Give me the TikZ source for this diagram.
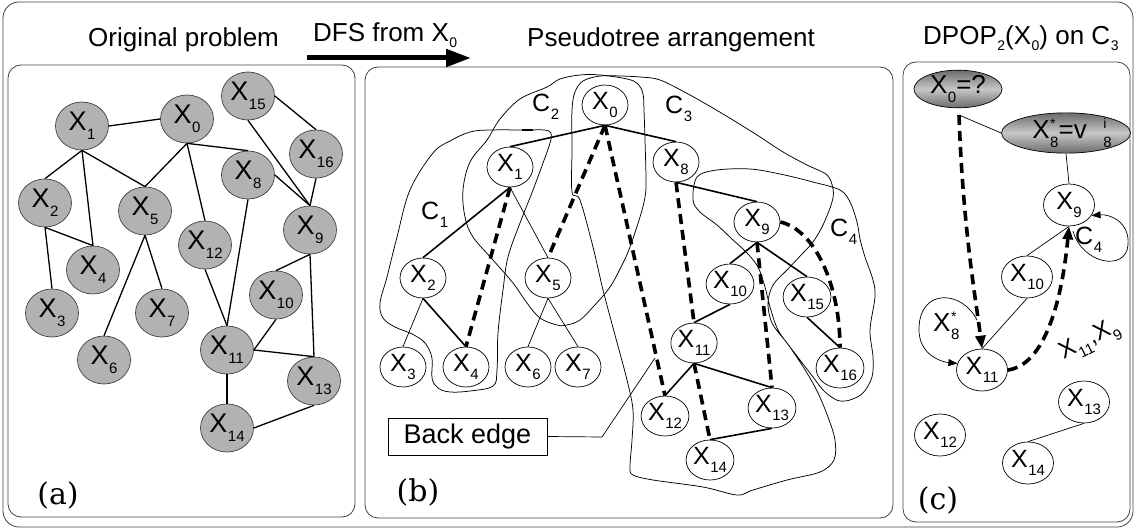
\documentclass[tikz,border=0pt]{standalone}
\usepackage{fontspec}
\setmainfont{Liberation Sans}
\newfontfamily\labfont{DejaVu Serif}
\usetikzlibrary{arrows.meta,shapes.geometric}

% font size helper, lowered subscripts, raised superscript (stacked over the subscript)
\newcommand\fs[1]{\fontsize{#1}{#1}\selectfont}
\newcommand\Sb[1]{\kern0.5pt\raisebox{-0.32em}{\fs{15}#1}}
\newcommand\Ts[1]{\kern0.5pt\raisebox{-0.22em}{\fs{14}#1}}
\newcommand\Sbb[1]{\kern0.5pt\raisebox{-0.3em}{\fs{15}#1}}
\newcommand\Sp[1]{\rlap{\kern0.5pt\raisebox{0.38em}{\fs{14}#1}}}

\tikzset{
  panel/.style={draw=black!75, line width=0.8pt, rounded corners=13pt},
  gnode/.style={ellipse, draw=black!75, line width=0.7pt, fill=black!30,
    minimum width=53pt, minimum height=48pt, inner sep=0pt, font=\fs{27}},
  wnode/.style={ellipse, draw=black, line width=0.7pt, fill=white,
    minimum width=46pt, minimum height=40pt, inner sep=0pt, font=\fs{25}},
  cnode/.style={wnode, minimum width=51pt, minimum height=42pt},
  snode/.style={ellipse, draw=black, line width=0.7pt, top color=black!58,
    bottom color=black!58, middle color=black!22, inner sep=0pt, font=\fs{26}},
  aedge/.style={line width=1.3pt},
  tedge/.style={line width=1.6pt},
  fedge/.style={line width=0.7pt},
  bedge/.style={line width=3.6pt, dash pattern=on 10pt off 6pt},
  ring/.style={line width=0.75pt},
  heading/.style={font=\fs{26}, anchor=base west, inner sep=0pt},
  clab/.style={font=\fs{25}, anchor=base west, inner sep=0pt},
  plab/.style={font=\labfont\fs{30}, inner sep=0pt},
  bigtip/.style={-{Triangle[length=13pt,width=10pt]}},
  smalltip/.style={-{Triangle[length=9pt,width=7pt]}},
}

\begin{document}
\begin{tikzpicture}[x=1pt,y=-1pt]
\useasboundingbox (0,0) rectangle (1135,529);

% frames
\draw[panel, rounded corners=16pt] (3,2) rectangle (1133,527);
\draw[panel] (8,65) rectangle (355,517);
\draw[panel] (365,67) rectangle (893,518);
\draw[panel] (903,62) rectangle (1130,522);

% headings
\node[heading] (t1) at (88,47) {Original problem};
\node[heading] (t2) at (313,42) {DFS from X\Ts{0}};
\node[heading] (t3) at (527,47) {Pseudotree arrangement};
\node[heading] (t4) at (923,45) {DPOP\Ts{2}(X\Ts{0}) on C\Ts{3}};
\coordinate (dfsA) at (307,58);
\coordinate (dfsB) at (471,58);
\draw[line width=5pt, -{Triangle[length=25pt,width=17pt]}] (dfsA) -- (dfsB);

% ---------------- (a) constraint graph ----------------
\node[gnode] (a0)  at (187,119) {X\Sb{0}};
\node[gnode] (a1)  at (82,126)  {X\Sb{1}};
\node[gnode] (a2)  at (45,203)  {X\Sb{2}};
\node[gnode] (a3)  at (52,313)  {X\Sb{3}};
\node[gnode] (a4)  at (93,270)  {X\Sb{4}};
\node[gnode] (a5)  at (145,211) {X\Sb{5}};
\node[gnode] (a6)  at (104,360) {X\Sb{6}};
\node[gnode] (a7)  at (162,313) {X\Sb{7}};
\node[gnode] (a8)  at (248,175) {X\Sb{8}};
\node[gnode] (a9)  at (310,230) {X\Sb{9}};
\node[gnode] (a10) at (276,295) {X\Sb{10}};
\node[gnode] (a11) at (227,350) {X\Sb{11}};
\node[gnode] (a12) at (205,245) {X\Sb{12}};
\node[gnode] (a13) at (314,381) {X\Sb{13}};
\node[gnode] (a14) at (227,428) {X\Sb{14}};
\node[gnode] (a15) at (248,96)  {X\Sb{15}};
\node[gnode] (a16) at (316,154) {X\Sb{16}};

\draw[aedge] (a1.east) -- (a0.west);
\draw[aedge] (a1.south) -- (a2.north);
\draw[aedge] (a1.south) -- (a4.north);
\draw[aedge] (a1.south) -- (a5.north);
\draw[aedge] (a0.south) -- (a5.north);
\draw[aedge] (a0.south) -- (a12.north);
\draw[aedge] (a0.south) -- (a8.north);
\draw[aedge] (a8.east) -- (a9.north);
\draw[aedge] (a15.south) -- (a9.north);
\draw[aedge] (a16.south) -- (a9.north);
\draw[aedge] (a15.east) -- (a16.north);
\draw[aedge] (a2.south) -- (a4.north);
\draw[aedge] (a2.south) -- (a3.north);
\draw[aedge] (a5.south) -- (a6.north);
\draw[aedge] (a5.south) -- (a7.north);
\draw[aedge] (a12.south) -- (a11.north);
\draw[aedge] (a8.south) -- (a11.north);
\draw[aedge] (a9.south) -- (a10.north);
\draw[aedge] (a9.south) -- (a13.north);
\draw[aedge] (a10.south) -- (a11.east);
\draw[aedge] (a11.east) -- (a13.north);
\draw[aedge] (a11.south) -- (a14.north);
\draw[aedge] (a14.east) -- (a13.south);

\node[plab] (pa) at (58,495) {(a)};

% ---------------- (b) pseudotree with clusters ----------------
% C1
\draw[ring] plot[smooth cycle, tension=0.6] coordinates {
  (527,130) (490,130) (470,132) (450,141) (433,153) (410,190) (397,237)
  (387,277) (380,303) (383,318) (395,327) (412,334) (425,343) (432,358)
  (432,378) (438,388) (450,392) (470,391) (493,386) (497,370) (498,333)
  (503,290) (508,257) (520,223) (533,190) (543,163) (550,143) (551,133)
  (544,130)};
\draw[line width=2pt] (522,129.6) -- (533,129.6);
% C2
\draw[ring] plot[smooth cycle, tension=0.6] coordinates {
  (600,75) (580,75) (560,79) (547,87) (520,99) (500,119) (487,140)
  (470,162) (463,190) (465,217) (473,237) (493,260) (513,283) (527,303)
  (540,318) (557,325) (567,325) (580,320) (593,307) (610,287) (623,263)
  (630,247) (640,217) (645,197) (646,180) (645,140) (644,110) (643,94)
  (638,84) (627,79)};
% C3 and C4 (one stroke crossing itself)
\draw[ring] plot[smooth cycle, tension=0.55] coordinates {
  (572,192) (572,150) (572,110) (575,92) (583,81) (600,76) (620,76)
  (640,77) (660,80) (690,95) (723,114) (757,135) (783,152) (807,165)
  (827,175) (833,189) (832,202) (823,225) (813,242) (803,253) (787,270)
  (773,285) (768,303) (772,323) (787,343) (800,360) (813,377) (823,390)
  (833,398) (840,401) (850,400) (863,393) (872,377) (873,357) (870,330)
  (875,297) (873,280) (865,257) (860,239) (857,222) (850,202) (840,190)
  (813,182) (780,174) (750,169) (717,170) (697,177) (693,200) (700,212)
  (717,225) (733,240) (747,253) (758,267) (765,287) (770,307) (778,330)
  (792,350) (807,373) (818,393) (828,417) (835,440) (834,460) (820,472)
  (787,480) (753,490) (737,495) (703,487) (653,480) (633,475) (630,467)
  (632,440) (633,410) (627,380) (615,335) (603,290) (593,247) (580,200)};

\node[clab] (lc1) at (421,220) {C\Sbb{1}};
\node[clab] (lc2) at (532,112) {C\Sbb{2}};
\node[clab] (lc3) at (665,114) {C\Sbb{3}};
\node[clab] (lc4) at (830,237) {C\Sbb{4}};

\node[wnode] (b0)  at (605,105) {X\Sb{0}};
\node[wnode] (b1)  at (510,167) {X\Sb{1}};
\node[wnode] (b2)  at (423,278) {X\Sb{2}};
\node[wnode] (b3)  at (403,367) {X\Sb{3}};
\node[wnode] (b4)  at (466,367) {X\Sb{4}};
\node[wnode] (b5)  at (548,278) {X\Sb{5}};
\node[wnode] (b6)  at (528,367) {X\Sb{6}};
\node[wnode] (b7)  at (578,367) {X\Sb{7}};
\node[wnode] (b8)  at (676,162) {X\Sb{8}};
\node[wnode] (b9)  at (757,222) {X\Sb{9}};
\node[wnode] (b10) at (730,284) {X\Sb{10}};
\node[wnode] (b11) at (694,343) {X\Sb{11}};
\node[wnode] (b12) at (665,416) {X\Sb{12}};
\node[wnode] (b13) at (772,408) {X\Sb{13}};
\node[wnode] (b14) at (710,460) {X\Sb{14}};
\node[wnode] (b15) at (807,297) {X\Sb{15}};
\node[wnode] (b16) at (840,368) {X\Sb{16}};

% tree edges
\draw[tedge] (b0.south) -- (b1.north);
\draw[tedge] (b0.south) -- (b8.north);
\draw[tedge] (b1.south) -- (b2.north);
\draw[tedge] (b2.south) -- (b4.north);
\draw[tedge] (b8.south) -- (b9.north);
\draw[tedge] (b9.south) -- (b10.north);
\draw[tedge] (b9.south) -- (b15.north);
\draw[tedge] (b10.south) -- (b11.north);
\draw[tedge] (b15.south) -- (b16.north);
\draw[tedge] (b11.south) -- (b12.north);
\draw[tedge] (b11.south) -- (b13.north);
\draw[tedge] (b14.north) -- (b13.south);
\draw[fedge] (b1.south) -- (b5.north);
\draw[fedge] (b2.south) -- (b3.north);
\draw[fedge] (b5.south) -- (b6.north);
\draw[fedge] (b5.south) -- (b7.north);
% back edges
\draw[bedge] (b0.south) -- (b5.north);
\draw[bedge] (b0.south) -- (b12.north);
\draw[bedge] (b1.south) -- (b4.north);
\draw[bedge] (b8.south) -- (b11.north);
\draw[bedge] (b9.south) -- (b13.north);
\draw[bedge] (b11.south) -- (b14.north);
\draw[bedge] (b9.east) .. controls (815,230) and (840,285) .. (b16.north);

% callout
\node[draw, line width=0.7pt, minimum width=159pt, minimum height=37pt,
      inner sep=0pt, font=\fs{27}] (be) at (467.5,436.5) {Back edge};
\coordinate (beknee) at (602,437);
\coordinate (betip) at (655,358);
\draw[fedge] (be.east) -- (beknee) -- (betip);

\node[plab] (pb) at (418,492) {(b)};

% ---------------- (c) DPOP on C3 ----------------
\node[snode, minimum width=88pt, minimum height=35pt] (c0) at (958,89) {X\Sb{0}=?};
\node[snode, minimum width=114pt, minimum height=40pt] (c8) at (1066,133)
  {\hspace*{12pt}X\Sp{*}\Sb{8}=v\kern16pt\Sp{i}\Sb{8}};
\node[cnode] (c9)  at (1069,205) {X\Sb{9}};
\node[cnode] (c10) at (1027,277) {X\Sb{10}};
\node[cnode] (c11) at (982,370)  {X\Sb{11}};
\node[cnode] (c12) at (940,435)  {X\Sb{12}};
\node[cnode] (c13) at (1084,402) {X\Sb{13}};
\node[cnode] (c14) at (1028,463) {X\Sb{14}};

\coordinate (c0foot) at (959,115);
\draw[fedge] (c0foot) -- (c8.west);
\draw[fedge] (c8.south) -- (c9.north);
\draw[fedge] (c11.north) -- (c10.south);
\draw[fedge] (c10.north) -- (c9.south);
\draw[fedge] (c14.north) -- (c13.south);
\draw[bedge, bigtip] (c0foot) .. controls (963,230) and (976,300) .. (c11.north);
\draw[bedge, bigtip] (c11.east) .. controls (1045,365) and (1062,300) .. (c9.south);

% self loops
\coordinate (l8) at (977,320);
\draw[fedge, smalltip] (l8) .. controls (962,290) and (920,288) .. (919,328)
  .. controls (918,355) and (942,362) .. (c11.165);
\coordinate (l9) at (1073,231);
\draw[fedge, smalltip] (l9) .. controls (1082,264) and (1126,272) .. (1128,245)
  .. controls (1130,222) and (1110,214) .. (c9.-25);

\node[clab] (lc4c) at (1075,245) {C\Sbb{4}};
\node[clab, font=\fs{26}] (lx8) at (933,331) {X\Sp{*}\Sb{8}};
\node[font=\fs{24}, rotate=27, inner sep=0pt] (lsep) at (1090,341) {X\Sb{11},X\Sb{9}};

\node[plab] (pc) at (938,500) {(c)};
\end{tikzpicture}
\end{document}
